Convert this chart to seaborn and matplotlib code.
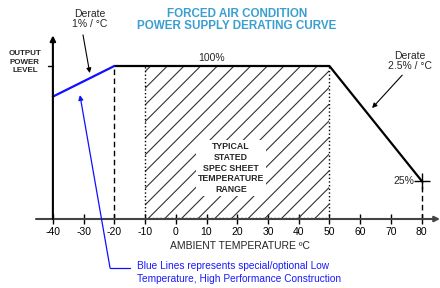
import numpy as np
import pandas as pd
import matplotlib
matplotlib.use('Agg')
import matplotlib.pyplot as plt
import seaborn as sns

# derating curve data
temp_std = [-20, 50, 80]
power_std = [100, 100, 25]
temp_low = [-40, -20]
power_low = [80, 100]
spec_range = [-10, 50]
xticks = [-40, -30, -20, -10, 0, 10, 20, 30, 40, 50, 60, 70, 80]
xtick_labels = ['-40', '-30', '-20', '-10', '0', '10', '20', '30', '40', '50', '60', '70', '80']

sns.set_style('white')
plt.rcParams['font.family'] = ['Liberation Sans', 'DejaVu Sans']
plt.rcParams['axes.unicode_minus'] = False
plt.rcParams['hatch.linewidth'] = 0.8

df_std = pd.DataFrame({'temp': temp_std, 'power': power_std})
df_low = pd.DataFrame({'temp': temp_low, 'power': power_low})

fig = plt.figure(figsize=(4.4, 2.88), dpi=100)
ax = fig.add_axes([36 / 440, 69 / 288, 404 / 440, 183.6 / 288])
ax.set_xlim(-45.5, 86)
ax.set_ylim(0, 120)
for s in ax.spines.values():
    s.set_visible(False)

# typical spec sheet range (hatched)
ax.fill_between(spec_range, 0, 100, facecolor='none', edgecolor='#333333',
                hatch='//', linewidth=0)
ax.plot([spec_range[0]] * 2, [0, 100], ls=':', color='black', lw=1)
ax.plot([spec_range[1]] * 2, [0, 100], ls=':', color='black', lw=1)
ax.plot(spec_range, [0.6, 0.6], ls=':', color='black', lw=1)

# dashed guides
ax.plot([temp_std[0]] * 2, [0, 100], ls=(0, (4, 2.5)), color='black', lw=1)
ax.plot([temp_std[-1]] * 2, [0, power_std[-1]], ls=(0, (4, 2.5)), color='black', lw=1)

sns.lineplot(data=df_std, x='temp', y='power', color='black', lw=1.6, ax=ax)
sns.lineplot(data=df_low, x='temp', y='power', color='#1010ff', lw=1.6, ax=ax)
ax.plot([temp_std[-1]], [power_std[-1]], marker='+', ms=12, mew=1, color='black')

# axes with arrows
ax.annotate('', xy=(86, 0), xytext=(-45.5, 0), annotation_clip=False,
            arrowprops=dict(arrowstyle='-|>', color='#444444', lw=1.5,
                            mutation_scale=8, shrinkA=0, shrinkB=0))
ax.annotate('', xy=(-40, 120), xytext=(-40, 0), annotation_clip=False,
            arrowprops=dict(arrowstyle='-|>', color='black', lw=1.5,
                            mutation_scale=8, shrinkA=0, shrinkB=0))
ax.plot([-41.5, -40], [100, 100], color='black', lw=1, clip_on=False)

ax.set_xticks(xticks)
ax.set_xticklabels(xtick_labels)
ax.set_yticks([])
ax.tick_params(axis='x', direction='inout', length=7, width=1, pad=2,
               labelsize=7.5, bottom=True, colors='black')
ax.set_xlabel('')
ax.set_ylabel('')

ax.text(20.9, -17.6, 'AMBIENT TEMPERATURE ºC', ha='center', va='center', fontsize=7.5)
ax.text(-49.1, 102.6, 'OUTPUT\nPOWER\nLEVEL', ha='center', va='center',
        fontsize=5.8, fontweight='bold', linespacing=1.35)
fig.text(237 / 440, 1 - 20 / 288, 'FORCED AIR CONDITION\nPOWER SUPPLY DERATING CURVE',
         ha='center', va='center', fontsize=8.4, fontweight='bold', color='#3a9fd0',
         linespacing=1.1)
ax.text(11.5, 105.2, '100%', ha='center', va='center', fontsize=7.5)
ax.text(77.6, 24.8, '25%', ha='right', va='center', fontsize=7.5)
ax.text(18, 33.3, 'TYPICAL\nSTATED\nSPEC SHEET\nTEMPERATURE\nRANGE', ha='center',
        va='center', fontsize=6.3, fontweight='bold', linespacing=1.25,
        bbox=dict(facecolor='white', edgecolor='none', pad=1.5))

ax.text(-28, 130.7, 'Derate\n1% / °C', ha='center', va='center', fontsize=7.5,
        linespacing=1.1, clip_on=False)
ax.annotate('', xy=(-28, 95.4), xytext=(-30.2, 120.3), annotation_clip=False,
            arrowprops=dict(arrowstyle='-|>', color='black', lw=0.8,
                            mutation_scale=7, shrinkA=0, shrinkB=0))
ax.text(76.3, 103.3, 'Derate\n2.5% / °C', ha='center', va='center', fontsize=7.5,
        linespacing=1.1, clip_on=False)
ax.annotate('', xy=(63.9, 72.5), xytext=(73.7, 94), annotation_clip=False,
            arrowprops=dict(arrowstyle='-|>', color='black', lw=0.8,
                            mutation_scale=7, shrinkA=0, shrinkB=0))

# blue leader and note
ax.annotate('', xy=(-31.2, 81), xytext=(-21.4, -32), annotation_clip=False,
            arrowprops=dict(arrowstyle='-|>', color='#1010ff', lw=0.9,
                            mutation_scale=7, shrinkA=0, shrinkB=0))
ax.plot([-21.4, -14.9], [-32, -32], color='#1010ff', lw=0.9, clip_on=False)
ax.text(-12.6, -35, 'Blue Lines represents special/optional Low\nTemperature, High Performance Construction',
        ha='left', va='center', fontsize=7.3, color='#1a1aff', linespacing=1.3)

fig.savefig('out.png', dpi=100)
